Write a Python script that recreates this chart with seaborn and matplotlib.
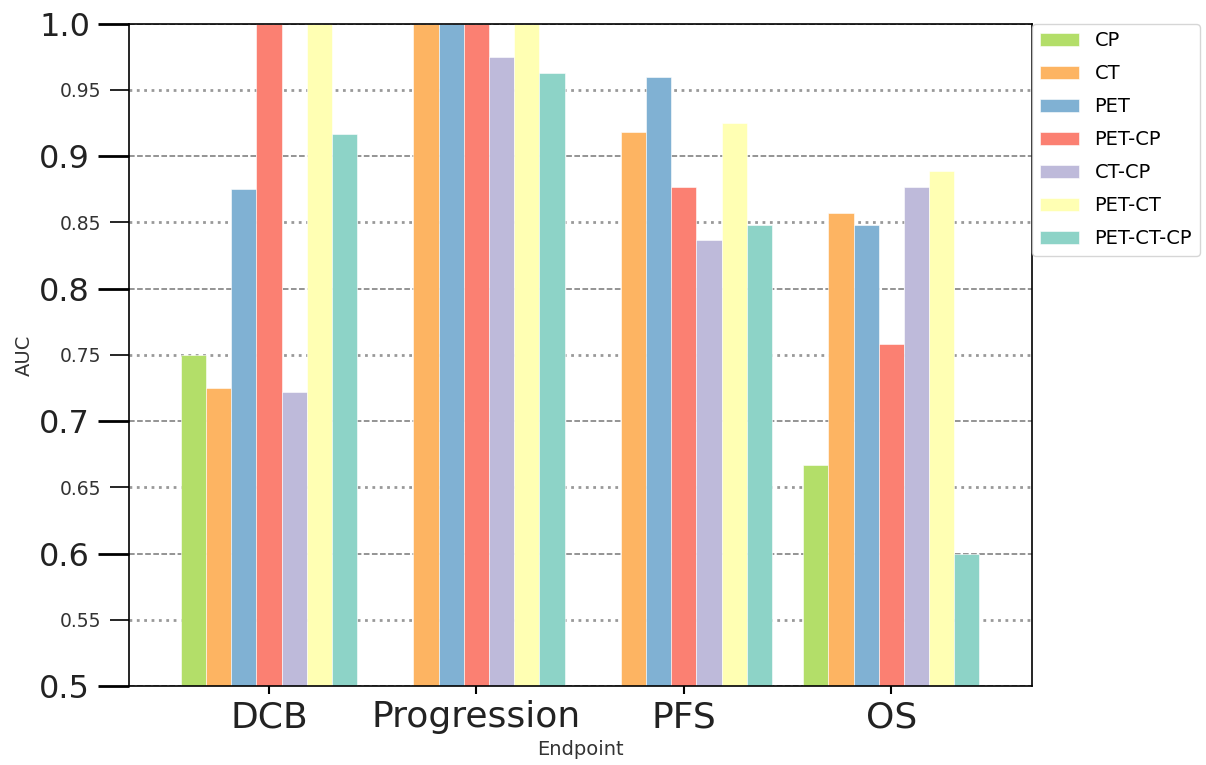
import numpy as np
import pandas as pd
import matplotlib
matplotlib.use('Agg')
import matplotlib.pyplot as plt
import seaborn as sns

# AUC per endpoint for each model (NaN = not reported)
endpoints = ['DCB', 'Progression', 'PFS', 'OS']
models = ['CP', 'CT', 'PET', 'PET-CP', 'CT-CP', 'PET-CT', 'PET-CT-CP']
cp = [0.75, np.nan, np.nan, 0.667]
ct = [0.725, 1.0, 0.918, 0.857]
pet = [0.875, 1.0, 0.96, 0.848]
pet_cp = [1.0, 1.0, 0.877, 0.758]
ct_cp = [0.722, 0.975, 0.837, 0.877]
pet_ct = [1.0, 1.0, 0.925, 0.889]
pet_ct_cp = [0.917, 0.963, 0.848, 0.6]
colors = ['#b3de69', '#fdb462', '#80b1d3', '#fb8072', '#bebada', '#ffffb3', '#8dd3c7']

major_ticks = [0.5, 0.6, 0.7, 0.8, 0.9, 1.0]
major_labels = ['0.5', '0.6', '0.7', '0.8', '0.9', '1.0']
minor_ticks = [0.55, 0.65, 0.75, 0.85, 0.95]
minor_labels = ['0.55', '0.65', '0.75', '0.85', '0.95']

rows = []
for m, vals in zip(models, [cp, ct, pet, pet_cp, ct_cp, pet_ct, pet_ct_cp]):
    for e, v in zip(endpoints, vals):
        rows.append({'Endpoint': e, 'Model': m, 'AUC': v})
df = pd.DataFrame(rows).dropna()

fig = plt.figure(figsize=(12.06, 7.65), dpi=100)
ax = fig.add_axes([0.107, 0.103, 0.749, 0.866])

sns.barplot(data=df, x='Endpoint', y='AUC', hue='Model', order=endpoints,
            hue_order=models, palette=colors, saturation=1, width=0.85,
            edgecolor='white', linewidth=0.4, ax=ax)

ax.set_ylim(0.5, 1.0)
ax.set_xlim(-0.675, 3.68)
ax.set_yticks(major_ticks, major_labels, fontsize=23)
ax.set_yticks(minor_ticks, minor_labels, minor=True, fontsize=13.5)
ax.tick_params(axis='y', which='major', length=22, width=2, pad=6)
ax.tick_params(axis='y', which='minor', length=14, width=1.2, pad=6)
ax.tick_params(axis='x', labelsize=26, length=6, width=1.5, pad=4)
for lbl in ax.get_yticklabels() + ax.get_xticklabels():
    lbl.set_color('#222222')
for lbl in ax.get_yticklabels(minor=True):
    lbl.set_color('#333333')

ax.grid(axis='y', which='major', linestyle='--', color='#777777', linewidth=1.1)
ax.grid(axis='y', which='minor', linestyle=':', color='#999999', linewidth=2)
ax.set_axisbelow(True)

ax.set_xlabel('Endpoint', fontsize=14, color='#333333')
ax.set_ylabel('AUC', fontsize=14, color='#333333')
for s in ax.spines.values():
    s.set_linewidth(1.2)

ax.legend(loc='upper left', bbox_to_anchor=(1.0, 1.0), borderaxespad=0,
          fontsize=14, labelspacing=0.72, title=None)

fig.savefig('out.png', dpi=100)
